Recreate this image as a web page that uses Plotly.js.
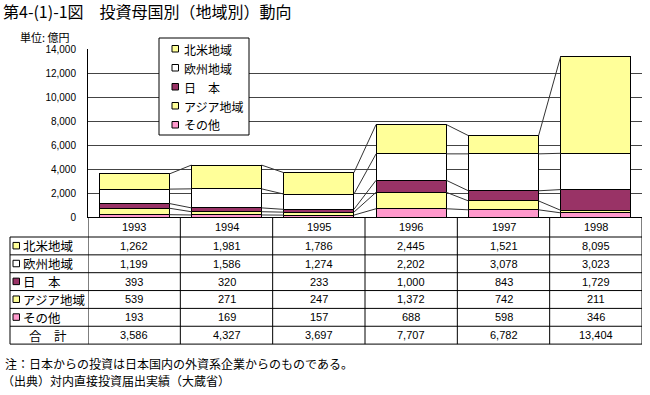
<!DOCTYPE html>
<html>
<head>
<meta charset="utf-8">
<script src="https://cdn.plot.ly/plotly-3.0.1.min.js"></script>
<style>html,body{margin:0;padding:0;background:#fff;}#chart{width:650px;height:395px;}</style>
</head>
<body>
<div id="chart"></div>
<script>
// ---- data ----
const years = ['1993', '1994', '1995', '1996', '1997', '1998'];
const seriesNames = ['北米地域', '欧州地域', '日　本', 'アジア地域', 'その他'];
const northAmerica = [1262, 1981, 1786, 2445, 1521, 8095];
const europe = [1199, 1586, 1274, 2202, 3078, 3023];
const japan = [393, 320, 233, 1000, 843, 1729];
const asia = [539, 271, 247, 1372, 742, 211];
const others = [193, 169, 157, 688, 598, 346];
const totals = [3586, 4327, 3697, 7707, 6782, 13404];
const totalLabel = '合　計';
const yTickVals = [0, 2000, 4000, 6000, 8000, 10000, 12000, 14000];

// ---- styles ----
const seriesValues = [northAmerica, europe, japan, asia, others];
const seriesColors = ['#FFFF99', '#FFFFFF', '#993366', '#FFFF99', '#FF99CC'];
const JP = '"Noto Sans CJK JP", "Noto Sans", sans-serif';
const LAT = '"Liberation Sans", Arial, sans-serif';

const W = 650, H = 395;
const L = 88, R = 8, T = 49, B = 178;
const plotH = H - T - B;            // 168
const plotW = W - L - R;            // 554
const py = p => (H - B - p) / plotH; // pixel y -> paper y
const px = p => (p - L) / plotW;     // pixel x -> paper x
const BW = 0.76;

const xs = years.map((_, i) => i);

// stacking bottom -> top
const stackOrder = [4, 3, 2, 1, 0];
const traces = [];
stackOrder.forEach(k => {
  traces.push({
    type: 'bar', x: xs, y: seriesValues[k], name: seriesNames[k],
    width: BW,
    marker: {color: seriesColors[k], line: {color: '#000', width: 1}},
    showlegend: false, hoverinfo: 'y+name'
  });
});

// series lines connecting stack tops
const cum = years.map(() => 0);
const lx = [], ly = [];
stackOrder.forEach(k => {
  years.forEach((_, i) => { cum[i] += seriesValues[k][i]; });
  for (let i = 0; i < years.length - 1; i++) {
    lx.push(i + BW / 2, i + 1 - BW / 2, null);
    ly.push(cum[i], cum[i + 1], null);
  }
});
traces.push({
  type: 'scatter', mode: 'lines', x: lx, y: ly,
  line: {color: '#333', width: 1}, hoverinfo: 'skip', showlegend: false,
  cliponaxis: false
});

const shapes = [];
const annotations = [];

// ---- legend box (manual) ----
shapes.push({type: 'rect', xref: 'paper', yref: 'paper',
  x0: px(159), x1: px(249), y0: py(38), y1: py(135),
  line: {color: '#000', width: 1}, fillcolor: '#fff', layer: 'above'});
const legY = [49, 68, 87, 106, 125];
seriesNames.forEach((n, k) => {
  shapes.push({type: 'rect', xref: 'paper', yref: 'paper',
    x0: px(172), x1: px(178.5), y0: py(legY[k] - 3.5), y1: py(legY[k] + 3),
    line: {color: '#000', width: 1}, fillcolor: seriesColors[k], layer: 'above'});
  annotations.push({xref: 'paper', yref: 'paper', x: px(182), y: py(legY[k]),
    xanchor: 'left', yanchor: 'middle', showarrow: false, text: n,
    font: {family: JP, size: 12, color: '#000'}});
});

// ---- data table ----
const rowTops = [217, 237];
for (let r = 1; r <= 6; r++) rowTops.push(237 + r * 17.85);
const tableLeft = 10;
// horizontal lines
for (let r = 1; r < rowTops.length; r++) {
  shapes.push({type: 'line', xref: 'paper', yref: 'paper',
    x0: px(tableLeft), x1: 1, y0: py(rowTops[r]), y1: py(rowTops[r]),
    line: {color: '#000', width: 1}});
}
// vertical lines
shapes.push({type: 'line', xref: 'paper', yref: 'paper',
  x0: px(tableLeft), x1: px(tableLeft), y0: py(237), y1: py(rowTops[7]),
  line: {color: '#000', width: 1}});
for (let i = 0; i <= years.length; i++) {
  shapes.push({type: 'line', xref: 'x', yref: 'paper',
    x0: i - 0.5, x1: i - 0.5, y0: py(217), y1: py(rowTops[7]),
    line: {color: '#000', width: 1}});
}
const rowMid = r => py((rowTops[r] + rowTops[r + 1]) / 2);
const numFont = {family: LAT, size: 11, color: '#000'};
years.forEach((yr, i) => {
  annotations.push({xref: 'x', yref: 'paper', x: i, y: rowMid(0),
    text: yr, showarrow: false, font: numFont, yanchor: 'middle'});
});
const fmt = v => v.toLocaleString('en-US');
const tableRows = seriesValues.concat([totals]);
tableRows.forEach((vals, r) => {
  vals.forEach((v, i) => {
    annotations.push({xref: 'x', yref: 'paper', x: i, y: rowMid(r + 1),
      text: fmt(v), showarrow: false, font: numFont, yanchor: 'middle'});
  });
  const cy = (rowTops[r + 1] + rowTops[r + 2]) / 2;
  if (r < seriesNames.length) {
    shapes.push({type: 'rect', xref: 'paper', yref: 'paper',
      x0: px(13), x1: px(19.5), y0: py(cy - 3.5), y1: py(cy + 3),
      line: {color: '#000', width: 1}, fillcolor: seriesColors[r]});
    annotations.push({xref: 'paper', yref: 'paper', x: px(21), y: py(cy),
      xanchor: 'left', yanchor: 'middle', showarrow: false, text: seriesNames[r],
      font: {family: JP, size: 12.5, color: '#000'}});
  } else {
    annotations.push({xref: 'paper', yref: 'paper', x: px(27), y: py(cy),
      xanchor: 'left', yanchor: 'middle', showarrow: false, text: totalLabel,
      font: {family: JP, size: 12.5, color: '#000'}});
  }
});

// ---- texts ----
annotations.push({xref: 'paper', yref: 'paper', x: px(18), y: py(37),
  xanchor: 'left', yanchor: 'middle', showarrow: false, text: '単位: 億円',
  font: {family: JP, size: 11, color: '#000'}});
annotations.push({xref: 'paper', yref: 'paper', x: px(3), y: py(363),
  xanchor: 'left', yanchor: 'middle', showarrow: false,
  text: '注：日本からの投資は日本国内の外資系企業からのものである。',
  font: {family: JP, size: 12, color: '#000'}});
annotations.push({xref: 'paper', yref: 'paper', x: px(0), y: py(380),
  xanchor: 'left', yanchor: 'middle', showarrow: false,
  text: '（出典）対内直接投資届出実績（大蔵省）',
  font: {family: JP, size: 12, color: '#000'}});

const layout = {
  width: W, height: H,
  margin: {l: L, r: R, t: T, b: B, pad: 0},
  paper_bgcolor: '#fff', plot_bgcolor: '#fff',
  title: {text: '第4-(1)-1図　投資母国別（地域別）動向',
    xref: 'container', yref: 'container', x: 3 / W, xanchor: 'left',
    y: 1 - 12 / H, yanchor: 'middle',
    font: {family: JP, size: 16, color: '#000'}},
  barmode: 'stack', bargap: 0.24,
  showlegend: false,
  xaxis: {range: [-0.5, years.length - 0.5], showticklabels: false,
    showgrid: false, zeroline: false, showline: true, linecolor: '#000',
    linewidth: 1, ticks: '', fixedrange: true},
  yaxis: {range: [0, 14000], tickvals: yTickVals,
    ticktext: yTickVals.map(fmt), showgrid: true, gridcolor: '#444',
    gridwidth: 1, zeroline: false, showline: true, linecolor: '#000',
    linewidth: 1, ticks: '', ticklabelstandoff: 9,
    tickfont: {family: LAT, size: 10, color: '#000'}, fixedrange: true},
  shapes: shapes,
  annotations: annotations
};

Plotly.newPlot('chart', traces, layout, {displayModeBar: false, staticPlot: true});
</script>
</body>
</html>
